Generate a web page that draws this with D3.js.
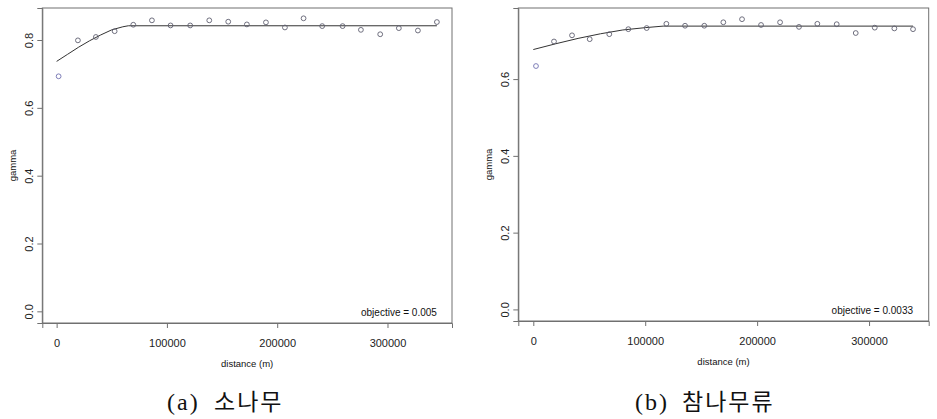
<!DOCTYPE html>
<html><head><meta charset="utf-8">
<script src="https://cdn.jsdelivr.net/npm/d3@7"></script>
<style>body{margin:0;background:#fff}svg{display:block}</style>
</head><body>
<svg id="c" width="937" height="419"></svg>
<script>
// Panel (a) 소나무
const distA = [1800,19300,35600,52600,69500,86400,103300,121100,138400,155600,172500,189800,207000,223900,240800,259300,275900,293400,310300,327600,344800];
const gammaA = [0.693,0.799,0.809,0.826,0.845,0.858,0.843,0.843,0.858,0.854,0.846,0.852,0.837,0.864,0.841,0.841,0.830,0.817,0.835,0.828,0.853];
const fitDistA = [0,10000,20000,30000,40000,50000,60000,65000,344800];
const fitGammaA = [0.737,0.758,0.779,0.798,0.815,0.830,0.839,0.842,0.842];
// Panel (b) 참나무류
const distB = [2400,18500,34600,50400,67900,84900,101300,118900,135600,152800,169800,186500,203500,220500,237400,253800,271100,288100,305100,322600,339300];
const gammaB = [0.634,0.698,0.714,0.704,0.717,0.730,0.733,0.744,0.739,0.739,0.748,0.756,0.741,0.748,0.736,0.744,0.743,0.720,0.734,0.732,0.730];
const fitDistB = [0,20000,40000,60000,80000,100000,116000,339300];
const fitGammaB = [0.677,0.692,0.706,0.718,0.728,0.734,0.738,0.738];

const xTicks = [0,100000,200000,300000];
const yTicksA = [0,0.2,0.4,0.6,0.8];
const yTicksB = [0,0.2,0.4,0.6];
const objectives = ["objective = 0.005","objective = 0.0033"];
const captions = [["(a)","소나무"],["(b)","참나무류"]];
const xLabel = "distance (m)";
const yLabel = "gamma";

const svg = d3.select("#c");

function panel(o){
  const g = svg.append("g");
  const x = d3.scaleLinear().domain(o.xdom).range([o.left,o.right]);
  const y = d3.scaleLinear().domain(o.ydom).range([o.bottom,o.top]);
  // box
  g.append("rect").attr("x",o.left).attr("y",o.top)
    .attr("width",o.right-o.left).attr("height",o.bottom-o.top)
    .attr("fill","none").attr("stroke","#707070").attr("stroke-width",1);
  // x axis
  const xa = g.append("g").attr("transform",`translate(0,${o.bottom})`)
    .call(d3.axisBottom(x).tickValues(xTicks).tickSize(5).tickPadding(11).tickFormat(d3.format("d")));
  xa.select(".domain").attr("stroke","#707070");
  xa.selectAll(".tick line").attr("stroke","#707070");
  xa.selectAll("text").attr("font-family","Liberation Sans, Arial, sans-serif").attr("font-size",11).attr("fill","#222");
  // y axis
  const ya = g.append("g").attr("transform",`translate(${o.left},0)`)
    .call(d3.axisLeft(y).tickValues(o.yticks).tickSize(5).tickFormat(d3.format(".1f")));
  ya.select(".domain").attr("stroke","#707070");
  ya.selectAll(".tick line").attr("stroke","#707070");
  ya.selectAll(".tick text").attr("x",null).attr("dy",null)
    .attr("text-anchor","middle")
    .attr("transform","translate(-13,0) rotate(-90)")
    .attr("dy","0.35em")
    .attr("font-family","Liberation Sans, Arial, sans-serif").attr("font-size",11).attr("fill","#222");
  // labels
  g.append("text").attr("x",(o.left+o.right)/2).attr("y",o.bottom+44)
    .attr("text-anchor","middle").attr("font-family","Liberation Sans, Arial, sans-serif")
    .attr("font-size",9.5).attr("fill","#111").text(xLabel);
  g.append("text").attr("transform",`translate(${o.left-26},${(o.top+o.bottom)/2}) rotate(-90)`)
    .attr("text-anchor","middle").attr("font-family","Liberation Sans, Arial, sans-serif")
    .attr("font-size",9.5).attr("fill","#111").text(yLabel);
  // fit line
  const line = d3.line().x(d=>x(d[0])).y(d=>y(d[1]));
  g.append("path").datum(o.fx.map((v,i)=>[v,o.fy[i]]))
    .attr("d",line).attr("fill","none").attr("stroke","#333").attr("stroke-width",1);
  // points
  g.selectAll("circle.p").data(o.px.map((v,i)=>[v,o.py[i]])).join("circle")
    .attr("cx",d=>x(d[0])).attr("cy",d=>y(d[1])).attr("r",2.4)
    .attr("fill","none").attr("stroke",(d,i)=>i===0?"#7070b0":"#606070").attr("stroke-width",0.9);
  // objective
  g.append("text").attr("x",x(o.px[o.px.length-1])).attr("y",o.bottom-7)
    .attr("text-anchor","end").attr("font-family","Liberation Sans, Arial, sans-serif")
    .attr("font-size",10).attr("fill","#111").text(o.obj);
  // caption
  g.append("text").attr("x",o.capx).attr("y",410).attr("fill","#111")
    .attr("font-family","Liberation Serif, serif").attr("font-size",24)
    .attr("letter-spacing",2).text(o.cap[0]);
  g.append("text").attr("x",o.capx+47).attr("y",410).attr("fill","#111")
    .attr("font-family","Noto Sans CJK KR, sans-serif").attr("font-size",23)
    .attr("letter-spacing",2).text(o.cap[1]);
}

panel({left:42.3,right:452,top:8,bottom:323,xdom:[-13000,358500],ydom:[-0.0344,0.8944],
  yticks:yTicksA,px:distA,py:gammaA,fx:fitDistA,fy:fitGammaA,obj:objectives[0],cap:captions[0],capx:167});
panel({left:518.3,right:928.7,top:8,bottom:321,xdom:[-13400,353300],ydom:[-0.0302,0.7852],
  yticks:yTicksB,px:distB,py:gammaB,fx:fitDistB,fy:fitGammaB,obj:objectives[1],cap:captions[1],capx:635});
</script>
</body></html>
